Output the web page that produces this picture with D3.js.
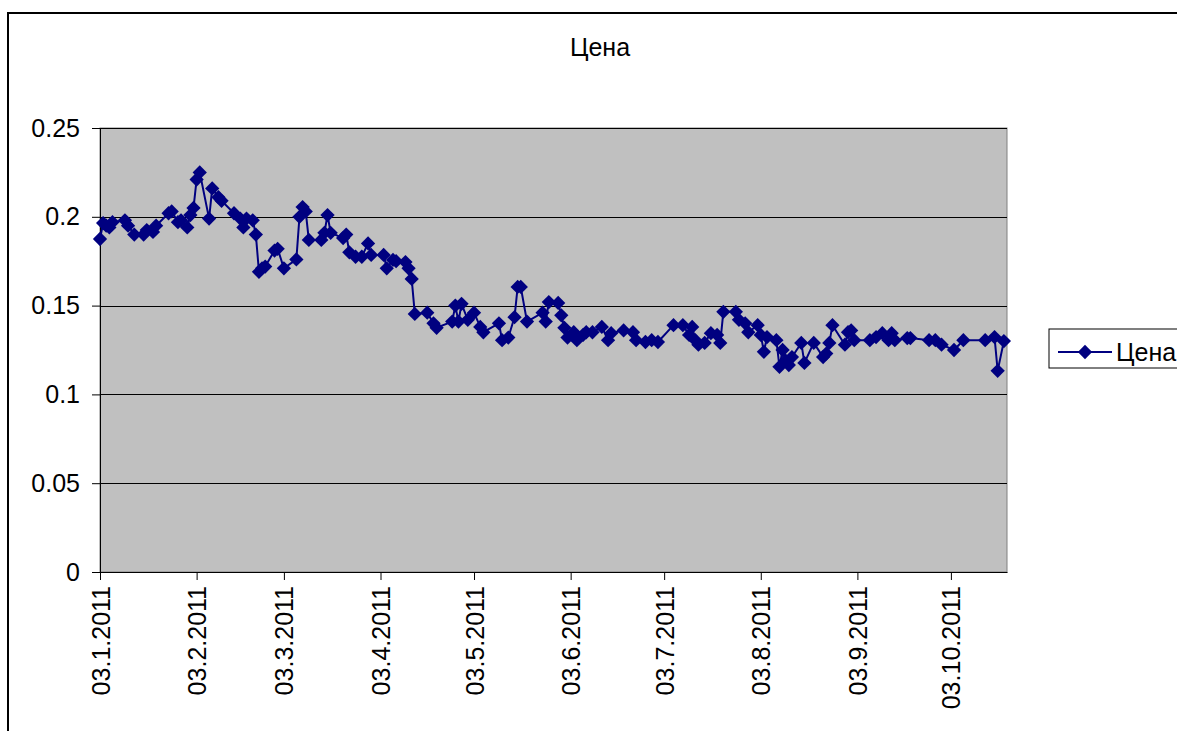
<!DOCTYPE html>
<html>
<head>
<meta charset="utf-8">
<script src="https://cdn.jsdelivr.net/npm/d3@7"></script>
<style>
  body { margin: 0; background: #fff; }
  svg { display: block; font-family: "Liberation Sans", Arial, sans-serif; }
</style>
</head>
<body>
<svg id="chart" width="1177" height="731"></svg>
<script>
// Цена по дням (дата, значение)
var dates = [
  '2011-01-03','2011-01-04','2011-01-05','2011-01-06','2011-01-07','2011-01-11','2011-01-12','2011-01-14',
  '2011-01-17','2011-01-18','2011-01-20','2011-01-21','2011-01-25','2011-01-26','2011-01-28','2011-01-29',
  '2011-01-31','2011-02-01','2011-02-02','2011-02-03','2011-02-04','2011-02-07','2011-02-08','2011-02-10',
  '2011-02-11','2011-02-15','2011-02-17','2011-02-18','2011-02-19','2011-02-21','2011-02-22','2011-02-23',
  '2011-02-24','2011-02-25','2011-02-28','2011-03-01','2011-03-03','2011-03-07','2011-03-08','2011-03-09',
  '2011-03-10','2011-03-11','2011-03-15','2011-03-16','2011-03-17','2011-03-18','2011-03-22','2011-03-23',
  '2011-03-24','2011-03-26','2011-03-28','2011-03-30','2011-03-31','2011-04-04','2011-04-05','2011-04-07',
  '2011-04-08','2011-04-11','2011-04-12','2011-04-13','2011-04-14','2011-04-18','2011-04-20','2011-04-21',
  '2011-04-26','2011-04-27','2011-04-28','2011-04-29','2011-05-01','2011-05-03','2011-05-05','2011-05-06',
  '2011-05-11','2011-05-12','2011-05-14','2011-05-16','2011-05-17','2011-05-18','2011-05-20','2011-05-25',
  '2011-05-26','2011-05-27','2011-05-30','2011-05-31','2011-06-01','2011-06-02','2011-06-04','2011-06-05',
  '2011-06-07','2011-06-08','2011-06-10','2011-06-13','2011-06-15','2011-06-16','2011-06-20','2011-06-23',
  '2011-06-24','2011-06-27','2011-06-29','2011-07-01','2011-07-06','2011-07-09','2011-07-11','2011-07-12',
  '2011-07-13','2011-07-14','2011-07-16','2011-07-18','2011-07-20','2011-07-21','2011-07-22','2011-07-26',
  '2011-07-27','2011-07-29','2011-07-30','2011-08-02','2011-08-03','2011-08-04','2011-08-05','2011-08-08',
  '2011-08-09','2011-08-10','2011-08-11','2011-08-12','2011-08-13','2011-08-16','2011-08-17','2011-08-20',
  '2011-08-23','2011-08-24','2011-08-25','2011-08-26','2011-08-30','2011-08-31','2011-09-01','2011-09-02',
  '2011-09-07','2011-09-09','2011-09-11','2011-09-13','2011-09-14','2011-09-15','2011-09-19','2011-09-20',
  '2011-09-26','2011-09-28','2011-09-30','2011-10-04','2011-10-07','2011-10-14','2011-10-17','2011-10-18',
  '2011-10-20'
]

var prices = [
  0.1875, 0.1965, 0.195, 0.194, 0.197, 0.198, 0.195, 0.19,
  0.19, 0.1925, 0.1915, 0.195, 0.202, 0.203, 0.197, 0.198,
  0.194, 0.201, 0.205, 0.221, 0.225, 0.199, 0.216, 0.211,
  0.209, 0.202, 0.199, 0.194, 0.199, 0.198, 0.19, 0.169,
  0.171, 0.172, 0.181, 0.182, 0.171, 0.176, 0.2, 0.2055,
  0.203, 0.187, 0.187, 0.191, 0.201, 0.191, 0.188, 0.19,
  0.18, 0.1775, 0.1775, 0.185, 0.1785, 0.1785, 0.171, 0.1757,
  0.175, 0.1745, 0.171, 0.165, 0.1453, 0.146, 0.14, 0.1375,
  0.141, 0.15, 0.141, 0.151, 0.142, 0.146, 0.138, 0.135,
  0.14, 0.1305, 0.132, 0.1435, 0.1605, 0.1605, 0.141, 0.146,
  0.141, 0.152, 0.1515, 0.1445, 0.1375, 0.132, 0.135, 0.1305,
  0.1335, 0.135, 0.135, 0.138, 0.1305, 0.1345, 0.136, 0.135,
  0.1305, 0.1295, 0.1305, 0.1295, 0.139, 0.139, 0.1335, 0.138,
  0.1305, 0.128, 0.129, 0.1345, 0.1335, 0.129, 0.1465, 0.1465,
  0.142, 0.14, 0.135, 0.139, 0.1335, 0.124, 0.1323, 0.1305,
  0.1155, 0.125, 0.119, 0.1165, 0.121, 0.129, 0.1177, 0.129,
  0.121, 0.123, 0.129, 0.139, 0.128, 0.135, 0.136, 0.1305,
  0.1305, 0.1323, 0.1345, 0.1305, 0.1345, 0.1305, 0.1317, 0.1317,
  0.1305, 0.1305, 0.128, 0.125, 0.1305, 0.1305, 0.1323, 0.1133,
  0.13
]

var xTicks = ['2011-01-03','2011-02-03','2011-03-03','2011-04-03','2011-05-03',
  '2011-06-03','2011-07-03','2011-08-03','2011-09-03','2011-10-03']
var yTicks = [0, 0.05, 0.1, 0.15, 0.2, 0.25]
var xStart = '2011-01-03', xEnd = '2011-10-21'

var seriesName = 'Цена'
var colour = '#000080'
var fontSize = 25
var fontFamily = '"Liberation Sans", Arial, sans-serif'

var parse = d3.timeParse('%Y-%m-%d')
var data = dates.map(function (d, i) {
  return { date: parse(d), value: prices[i] }
})

var svg = d3.select('#chart')
var plotLeft = 100, plotRight = 1007, plotTop = 128, plotBottom = 572

// outer chart border
svg.append('rect')
  .attr('x', 8).attr('y', 13)
  .attr('width', 1200).attr('height', 760)
  .attr('fill', '#fff').attr('stroke', '#000').attr('stroke-width', 2)

var x = d3.scaleTime().domain([parse(xStart), parse(xEnd)]).range([plotLeft, plotRight])
var y = d3.scaleLinear().domain([0, 0.25]).range([plotBottom, plotTop])

// plot area
svg.append('rect')
  .attr('x', plotLeft).attr('y', plotTop)
  .attr('width', plotRight - plotLeft).attr('height', plotBottom - plotTop)
  .attr('fill', '#c0c0c0').attr('stroke', '#808080').attr('stroke-width', 1)

// gridlines
svg.append('g')
  .selectAll('line')
  .data(yTicks.slice(1))
  .join('line')
  .attr('x1', plotLeft).attr('x2', plotRight)
  .attr('y1', function (d) { return Math.round(y(d)) + 0.5 })
  .attr('y2', function (d) { return Math.round(y(d)) + 0.5 })
  .attr('stroke', '#000').attr('stroke-width', 1)

// y axis
var yAxis = svg.append('g')
  .attr('transform', 'translate(' + plotLeft + ',0)')
  .call(d3.axisLeft(y).tickValues(yTicks).tickSize(8).tickSizeOuter(0).tickPadding(12)
    .tickFormat(function (d) { return String(+d.toFixed(2)) }))
yAxis.select('.domain').attr('stroke', '#000')
yAxis.selectAll('text').attr('font-size', fontSize).attr('fill', '#000').attr('font-family', fontFamily)

// x axis
var xAxis = svg.append('g')
  .attr('transform', 'translate(0,' + plotBottom + ')')
  .call(d3.axisBottom(x).tickValues(xTicks.map(parse)).tickSize(8).tickSizeOuter(0)
    .tickFormat(d3.timeFormat('%d.%-m.%Y')))
xAxis.select('.domain').attr('stroke', '#000')
xAxis.selectAll('text')
  .attr('font-size', fontSize).attr('fill', '#000').attr('font-family', fontFamily)
  .attr('transform', 'rotate(-90)')
  .attr('text-anchor', 'end')
  .attr('x', -14).attr('y', 0).attr('dy', '0.36em')

// line
var line = d3.line()
  .x(function (d) { return x(d.date) })
  .y(function (d) { return y(d.value) })

svg.append('path')
  .datum(data)
  .attr('d', line)
  .attr('fill', 'none')
  .attr('stroke', colour)
  .attr('stroke-width', 2)

var diamond = d3.symbol().type(d3.symbolDiamond2).size(130)

svg.append('g')
  .selectAll('path')
  .data(data)
  .join('path')
  .attr('d', diamond)
  .attr('transform', function (d) { return 'translate(' + x(d.date) + ',' + y(d.value) + ')' })
  .attr('fill', colour)

// title
svg.append('text')
  .attr('x', 600).attr('y', 56)
  .attr('text-anchor', 'middle')
  .attr('font-size', fontSize)
  .text(seriesName)

// legend
var legend = svg.append('g').attr('transform', 'translate(1049,329)')
legend.append('rect')
  .attr('width', 140).attr('height', 39)
  .attr('fill', '#fff').attr('stroke', '#000').attr('stroke-width', 1)
legend.append('line')
  .attr('x1', 9).attr('x2', 63).attr('y1', 23).attr('y2', 23)
  .attr('stroke', colour).attr('stroke-width', 2)
legend.append('path')
  .attr('d', diamond)
  .attr('transform', 'translate(36,23)')
  .attr('fill', colour)
legend.append('text')
  .attr('x', 67).attr('y', 32)
  .attr('font-size', fontSize)
  .text(seriesName)
</script>
</body>
</html>
